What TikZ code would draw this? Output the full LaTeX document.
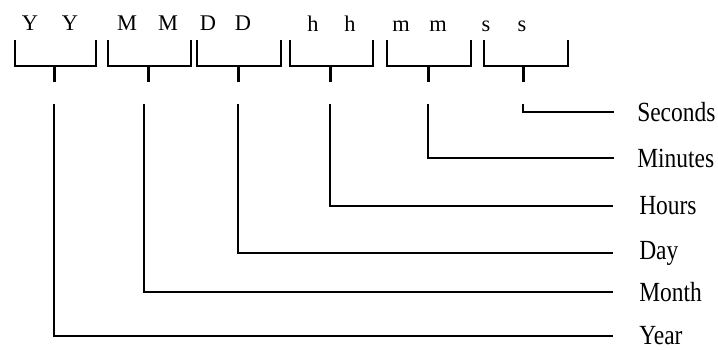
\documentclass[tikz,border=0pt]{standalone}
\usepackage{fontspec}
\usepackage{graphicx}
\setmainfont{Liberation Serif}

\tikzset{
  digit/.style={inner sep=0.75pt, font=\fontsize{16.8}{17}\selectfont},
  unitlabel/.style={anchor=west, inner sep=0pt, font=\fontsize{17.6}{18}\selectfont},
  bracket/.style={line width=1.5pt, line join=miter},
  stem/.style={line width=2.25pt},
  link/.style={line width=1.5pt, shorten >=16.5pt}
}
\newcommand{\tallish}[1]{\scalebox{1}[1.18]{#1}}

\begin{document}
\begin{tikzpicture}[x=0.75pt,y=0.75pt,yscale=-1,xscale=1]
    \useasboundingbox (0,0) rectangle (718,350);

    % Text Node: format letters
    \node[digit] (y1) at (30,23) {Y};
    \node[digit] (y2) at (70,23) {Y};
    \node[digit] (m1) at (127,23) {M};
    \node[digit] (m2) at (168,23) {M};
    \node[digit] (d1) at (208,23) {D};
    \node[digit] (d2) at (243,23) {D};
    \node[digit] (h1) at (313,24) {h};
    \node[digit] (h2) at (350,24) {h};
    \node[digit] (n1) at (401,26) {m};
    \node[digit] (n2) at (438,26) {m};
    \node[digit] (s1) at (486,26) {s};
    \node[digit] (s2) at (522,26) {s};

    % Shape: brackets with their stems
    \foreach \l/\r/\s/\vx/\n in {15/96/54/54/yy, 108/191/148/144/mo, 197/281/238/238/dd,
                                290/373/330/330/hh, 387/471/428/428/mi, 484/568/523/523/se}{
      \draw[bracket] (\l,40) -- (\l,66) -- (\r,66) -- (\r,40);
      \draw[stem] (\s,66) -- (\s,82);
      \coordinate (\n) at (\vx,104);
    }

    % Text Node: units
    \node[unitlabel] (seconds) at (637,112) {\tallish{Seconds}};
    \node[unitlabel] (minutes) at (637,158) {\tallish{Minutes}};
    \node[unitlabel] (hours) at (639,206) {\tallish{Hours}};
    \node[unitlabel] (day) at (639,253) {\tallish{Day}};
    \node[unitlabel] (month) at (639,292) {\tallish{Month}};
    \node[unitlabel] (year) at (639,336) {\tallish{Year}};

    % Straight Lines: stems to units
    \draw[link, shorten >=17.25pt] (se) |- (seconds);
    \draw[link, shorten >=17.25pt] (mi) |- (minutes);
    \draw[link, shorten >=19.5pt] (hh) |- (hours);
    \draw[link, shorten >=19.5pt] (dd) |- (day);
    \draw[link, shorten >=19.5pt] (mo) |- (month);
    \draw[link, shorten >=19.5pt] (yy) |- (year);
\end{tikzpicture}
\end{document}
